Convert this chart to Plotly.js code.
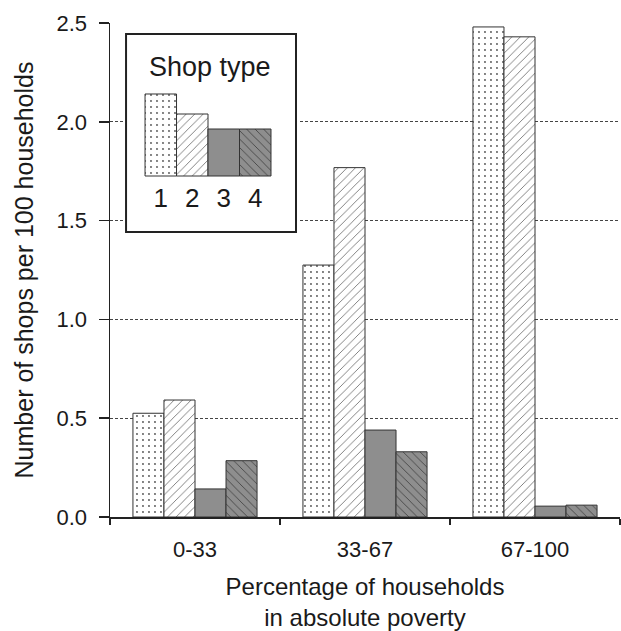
<!DOCTYPE html>
<html>
<head>
<meta charset="utf-8">
<script src="https://cdn.plot.ly/plotly-3.0.1.min.js"></script>
<style>html,body{margin:0;padding:0;background:#fff;}</style>
</head>
<body>
<div id="chart" style="width:621px;height:631px;"></div>
<script>
// ---- data ----
const categories = ['0-33', '33-67', '67-100'];
const shopType1 = [0.525, 1.275, 2.48];
const shopType2 = [0.592, 1.768, 2.43];
const shopType3 = [0.142, 0.44, 0.055];
const shopType4 = [0.285, 0.33, 0.06];
const legendLabels = ['1', '2', '3', '4'];
const legendHeights = [1, 0.756, 0.573, 0.573];

// ---- styles ----
const FONT = 'Liberation Sans, Arial, sans-serif';
const TXT = '#1a1a1a';
const EDGE = {color: '#333', width: 1};
const styles = [
  {color: '#ffffff', pattern: {shape: '.', fgcolor: '#555', bgcolor: '#ffffff', size: 6, solidity: 0.08, fillmode: 'replace'}},
  {color: '#ffffff', pattern: {shape: '/', fgcolor: '#777', bgcolor: '#ffffff', size: 6, solidity: 0.15, fillmode: 'replace'}},
  {color: '#8e8e8e', pattern: {shape: ''}},
  {color: '#8e8e8e', pattern: {shape: '\\', fgcolor: '#444', bgcolor: '#8e8e8e', size: 6, solidity: 0.15, fillmode: 'replace'}}
];
const series = [shopType1, shopType2, shopType3, shopType4];

const traces = series.map((vals, i) => ({
  type: 'bar',
  x: categories,
  y: vals,
  name: 'Shop type ' + legendLabels[i],
  xaxis: 'x', yaxis: 'y',
  marker: {color: styles[i].color, pattern: styles[i].pattern, line: EDGE},
  hoverinfo: 'x+y+name'
}));

// inset legend bars: one bar per shop type, full-width, touching
legendLabels.forEach((lab, i) => {
  traces.push({
    type: 'bar',
    x: [lab],
    y: [legendHeights[i]],
    width: 1,
    offset: -0.5,
    xaxis: 'x2', yaxis: 'y2',
    showlegend: false,
    hoverinfo: 'skip',
    marker: {color: styles[i].color, pattern: styles[i].pattern, line: EDGE}
  });
});

const layout = {
  width: 621, height: 631,
  margin: {l: 110, r: 1, t: 23, b: 114},
  paper_bgcolor: '#fff', plot_bgcolor: '#fff',
  showlegend: false,
  barmode: 'group',
  bargap: 0.27,
  bargroupgap: 0,
  font: {family: FONT, color: TXT},
  xaxis: {
    type: 'category', range: [-0.5, 2.5],
    tickson: 'boundaries', ticks: 'outside', ticklen: 6, tickwidth: 1.5, tickcolor: '#222',
    showline: true, linecolor: '#222', linewidth: 1.5,
    showgrid: false, zeroline: false,
    tickfont: {family: FONT, size: 22, color: TXT},
    ticklabelstandoff: 12,
    title: {text: 'Percentage of households<br>in absolute poverty', font: {family: FONT, size: 24, color: TXT}, standoff: 18}
  },
  yaxis: {
    range: [0, 2.5], dtick: 0.5, tickformat: '.1f',
    ticks: 'outside', ticklen: 10, tickwidth: 1.5, tickcolor: '#222',
    ticklabelstandoff: 7,
    showline: true, linecolor: '#222', linewidth: 1.5,
    showgrid: true, gridcolor: '#444', gridwidth: 1, griddash: '3px,2px',
    zeroline: false,
    tickfont: {family: FONT, size: 22, color: TXT},
    title: {text: 'Number of shops per 100 households', font: {family: FONT, size: 25, color: TXT}, standoff: 16}
  },
  xaxis2: {
    type: 'category', domain: [0.0275, 0.3686], range: [-1.167, 4.357],
    anchor: 'free', position: 0.6903,
    showline: false, ticks: '', showgrid: false, zeroline: false,
    tickfont: {family: FONT, size: 26, color: TXT},
    ticklabelstandoff: 4,
    fixedrange: true
  },
  yaxis2: {
    domain: [0.5729, 0.9818], range: [-0.707, 1.756], anchor: 'x2',
    showline: false, ticks: '', showgrid: false, zeroline: false, showticklabels: false,
    fixedrange: true
  },
  shapes: [{
    type: 'rect', xref: 'x2', yref: 'y2', layer: 'below',
    x0: -1.103, x1: 4.294, y0: -0.683, y1: 1.732,
    fillcolor: '#fff', line: {color: '#222', width: 2}
  }],
  annotations: [{
    xref: 'paper', yref: 'paper', x: 0.196, y: 0.911,
    text: 'Shop type', showarrow: false,
    xanchor: 'center', yanchor: 'middle',
    font: {family: FONT, size: 27, color: TXT}
  }]
};

Plotly.newPlot('chart', traces, layout, {displayModeBar: false, staticPlot: true});
</script>
</body>
</html>
